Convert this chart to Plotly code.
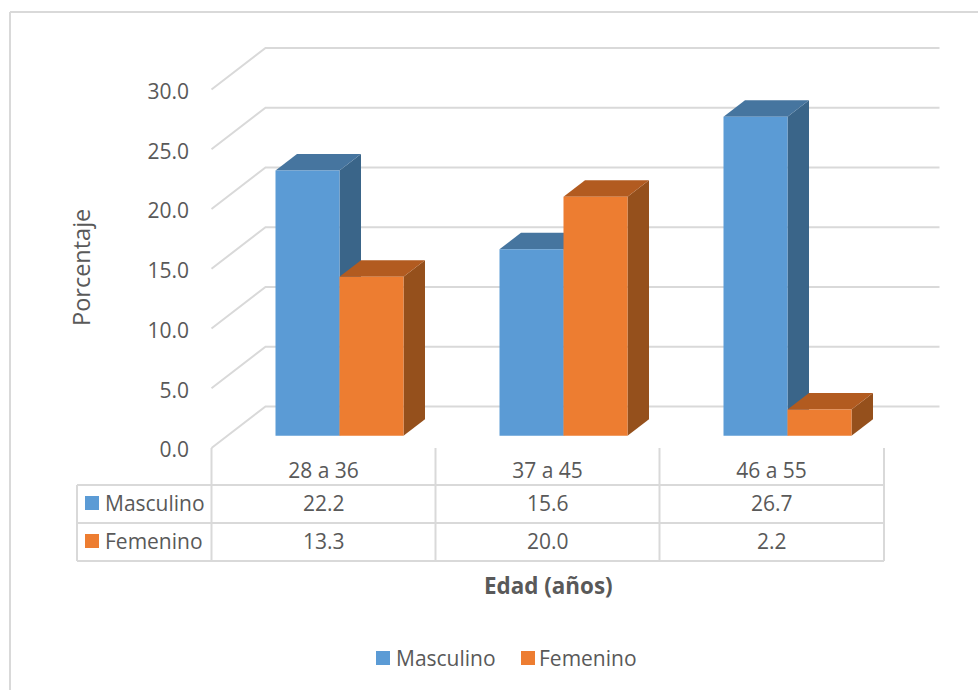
import plotly.graph_objects as go

# Chart data
categories = ["28 a 36", "37 a 45", "46 a 55"]
masculino = [22.2, 15.6, 26.7]
femenino = [13.3, 20.0, 2.2]
y_ticks = [0, 5, 10, 15, 20, 25, 30]
series_names = ["Masculino", "Femenino"]

# Page and plane geometry, in pixels
W, H = 978, 690
ORIGIN_X, ORIGIN_Y = 339.5, 435.7
PX_PER_CATEGORY, PX_PER_UNIT = 224.0, 11.95

BAR_WIDTH = 64 / PX_PER_CATEGORY
DEPTH_X = 21.5 / PX_PER_CATEGORY
DEPTH_Y = 16.5 / PX_PER_UNIT
FRONT_WALL = -(448 - ORIGIN_Y) / PX_PER_UNIT
BACK_WALL = (ORIGIN_Y - 406.5) / PX_PER_UNIT
WALL_LEFT = (211.5 - ORIGIN_X) / PX_PER_CATEGORY
BACK_LEFT = (265.5 - ORIGIN_X) / PX_PER_CATEGORY
BACK_RIGHT = (939.5 - ORIGIN_X) / PX_PER_CATEGORY
LABEL_SHIFT = -16 / PX_PER_CATEGORY
TICK_LABEL_DROP = 2 / PX_PER_UNIT

TEXT = "#595959"
LINE = "#d9d9d9"
FONT = "Open Sans, sans-serif"
FONT_SIZE = 21

COLORS = {
    "Masculino": ("#5b9bd5", "#3a6589", "#46759f"),
    "Femenino": ("#ed7d31", "#95501c", "#b25b20"),
}


def px(x):
    return x / W


def py(y):
    return 1 - y / H


fig = go.Figure()

# Walls: a slanted floor-to-back line plus the back gridline for each tick
wall_x, wall_y = [], []
for v in y_ticks:
    wall_x += [WALL_LEFT, BACK_LEFT, BACK_RIGHT, None]
    wall_y += [v + FRONT_WALL, v + BACK_WALL, v + BACK_WALL, None]
fig.add_trace(go.Scatter(x=wall_x, y=wall_y, mode="lines", zorder=0,
                         line=dict(color=LINE, width=2), hoverinfo="skip",
                         showlegend=False))


def add_series(name, values, offset, z):
    front, side, top = COLORS[name]
    for i, v in enumerate(values):
        right = i + offset + BAR_WIDTH
        left = i + offset
        fig.add_trace(go.Scatter(
            x=[right, right + DEPTH_X, right + DEPTH_X, right, right],
            y=[0, DEPTH_Y, v + DEPTH_Y, v, 0],
            mode="lines", fill="toself", fillcolor=side,
            line=dict(width=0), hoverinfo="skip", showlegend=False, zorder=z))
        fig.add_trace(go.Scatter(
            x=[left, left + DEPTH_X, right + DEPTH_X, right, left],
            y=[v, v + DEPTH_Y, v + DEPTH_Y, v, v],
            mode="lines", fill="toself", fillcolor=top,
            line=dict(width=0), hoverinfo="skip", showlegend=False, zorder=z))
    fig.add_trace(go.Bar(x=list(range(len(values))), y=values, name=name,
                         width=BAR_WIDTH, offset=offset, marker_color=front,
                         marker_line_width=0, showlegend=False, zorder=z + 1))


add_series("Masculino", masculino, -BAR_WIDTH, 1)
add_series("Femenino", femenino, 0, 3)

# Data table under the plot
shapes = []


def line(x0, y0, x1, y1):
    shapes.append(dict(type="line", xref="paper", yref="paper",
                       x0=px(x0), y0=py(y0), x1=px(x1), y1=py(y1),
                       line=dict(color=LINE, width=2)))


for yy in (485, 523, 561):
    line(77, yy, 884, yy)
line(77, 485, 77, 561)
for xx in (211.5, 435.5, 659.5, 884):
    line(xx, 448, xx, 561)

# Outer chart frame
line(10, 12, W, 12)
line(10, 12, 10, H)


def swatch(x, y, color):
    shapes.append(dict(type="rect", xref="paper", yref="paper", line_width=0,
                       fillcolor=color, x0=px(x), x1=px(x + 14),
                       y0=py(y), y1=py(y + 14)))


annotations = []


def label(x, y, text, anchor="left", size=FONT_SIZE, angle=0):
    annotations.append(dict(
        xref="paper", yref="paper", x=px(x), y=py(y), text=text,
        xanchor=anchor, yanchor="middle", showarrow=False, textangle=angle,
        font=dict(family=FONT, size=size, color=TEXT)))


rows = [(503, masculino), (541, femenino)]
for (row_y, values), name in zip(rows, series_names):
    swatch(85, row_y - 7, COLORS[name][0])
    label(102.5, row_y, name)
    for i, v in enumerate(values):
        label(ORIGIN_X + PX_PER_CATEGORY * (i + LABEL_SHIFT), row_y, f"{v:.1f}", "center")

# Legend
swatch(376, 651, COLORS["Masculino"][0])
label(393.5, 658, "Masculino")
swatch(521, 651, COLORS["Femenino"][0])
label(536.5, 658, "Femenino")

# Axis titles
label(81, 268, "Porcentaje", "center", size=23.5, angle=-90)
label(548, 585, "<b>Edad (años)</b>", "center", size=22.4)

fig.update_layout(
    width=W, height=H, margin=dict(l=0, r=0, t=0, b=0, pad=0),
    paper_bgcolor="white", plot_bgcolor="white", barmode="overlay",
    font=dict(family=FONT, size=FONT_SIZE, color=TEXT),
    shapes=shapes, annotations=annotations,
    xaxis=dict(
        range=[-ORIGIN_X / PX_PER_CATEGORY, (W - ORIGIN_X) / PX_PER_CATEGORY],
        domain=[0, 1], anchor="free", position=py(456),
        tickmode="array",
        tickvals=[i + LABEL_SHIFT for i in range(len(categories))],
        ticktext=categories, ticks="", showgrid=False, zeroline=False,
        showline=False,
    ),
    yaxis=dict(
        range=[-(H - ORIGIN_Y) / PX_PER_UNIT, ORIGIN_Y / PX_PER_UNIT],
        domain=[0, 1], anchor="free", position=px(189),
        tickmode="array",
        tickvals=[v + FRONT_WALL - TICK_LABEL_DROP for v in y_ticks],
        ticktext=[f"{v:.1f}" for v in y_ticks],
        ticks="", showgrid=False, zeroline=False, showline=False,
    ),
)

fig.write_html("out.html", config=dict(displayModeBar=False))
